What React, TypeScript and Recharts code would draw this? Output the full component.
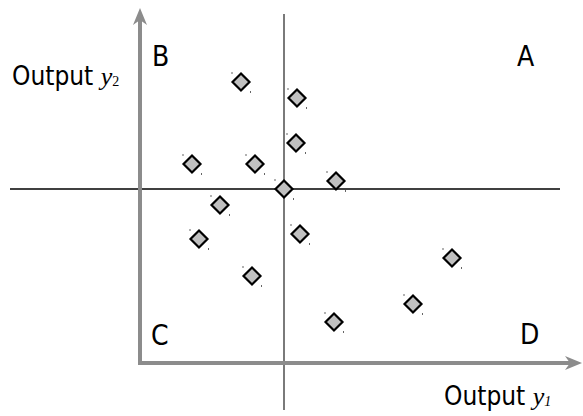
import { ScatterChart, Scatter, XAxis, YAxis, ReferenceLine } from 'recharts';

// output y1 (horizontal) and output y2 (vertical) of each observation
const y1Values = [10.1, 15.7, 15.6, 5.2, 11.5, 19.6, 14.4, 8.0, 5.9, 16.0, 31.2, 11.2, 27.3, 19.4];
const y2Values = [28.1, 26.5, 22.0, 19.9, 19.9, 18.2, 17.4, 15.8, 12.4, 12.9, 10.5, 8.7, 5.9, 4.1];

// centre of the cloud, where the quadrant lines cross
const centreY1 = 14.4;
const centreY2 = 17.4;

const quadrantLabels = ['A', 'B', 'C', 'D'];

const data = y1Values.map((v, i) => ({ x: v, y: y2Values[i] }));

const AXIS_GREY = '#8c8c8c';

function Diamond(props: any) {
  const { cx, cy } = props;
  if (cx == null || cy == null) return null;
  const r = 8.5;
  return (
    <g>
      <polygon
        points={`${cx},${cy - r} ${cx + r},${cy} ${cx},${cy + r} ${cx - r},${cy}`}
        fill="#c0c0c0"
        stroke="#000"
        strokeWidth={2.2}
        strokeLinejoin="miter"
      />
      {/* little specks left over from the original drawing */}
      <rect x={cx - 9.5} y={cy - 10} width={1} height={2} fill="#666" />
      <rect x={cx + 9} y={cy + 9} width={1} height={2} fill="#666" />
    </g>
  );
}

function ArrowLine(props: any) {
  const { x1, y1, x2, y2 } = props;
  const dx = x2 - x1;
  const dy = y2 - y1;
  const len = Math.sqrt(dx * dx + dy * dy) || 1;
  const ux = dx / len;
  const uy = dy / len;
  // perpendicular
  const px = -uy;
  const py = ux;
  const back = 17;
  const notch = 12;
  const wing = 7;
  const bx = x2 - ux * back;
  const by = y2 - uy * back;
  const nx = x2 - ux * notch;
  const ny = y2 - uy * notch;
  return (
    <g>
      <line x1={x1} y1={y1} x2={nx} y2={ny} stroke={AXIS_GREY} strokeWidth={4} />
      <polygon
        points={`${x2},${y2} ${bx + px * wing},${by + py * wing} ${nx},${ny} ${bx - px * wing},${by - py * wing}`}
        fill={AXIS_GREY}
      />
    </g>
  );
}

export default function App() {
  const font = '"DejaVu Sans Condensed", "DejaVu Sans", sans-serif';
  const serif = '"Liberation Serif", serif';
  const letterPos = [
    { x: 517, y: 66 },
    { x: 152, y: 66 },
    { x: 151, y: 345 },
    { x: 520, y: 344 },
  ];
  return (
    <div style={{ position: 'absolute', left: 0, top: 0, background: '#fff' }}>
      <ScatterChart width={583} height={416} margin={{ top: 0, right: 0, bottom: 0, left: 0 }}>
        <XAxis type="number" dataKey="x" domain={[-14, 44.3]} hide />
        <YAxis type="number" dataKey="y" domain={[-5.3, 36.3]} hide />

        {/* quadrant lines through the centre */}
        <ReferenceLine
          segment={[{ x: centreY1, y: 34.9 }, { x: centreY1, y: -4.7 }]}
          stroke="#7a7a7a"
          strokeWidth={2}
        />
        <ReferenceLine
          segment={[{ x: -13, y: centreY2 }, { x: 42, y: centreY2 }]}
          stroke="#000"
          strokeWidth={1.3}
        />

        {/* output axes */}
        <ReferenceLine segment={[{ x: -0.2, y: 0 }, { x: 44.2, y: 0 }]} shape={ArrowLine} />
        <ReferenceLine segment={[{ x: 0, y: -0.2 }, { x: 0, y: 35.5 }]} shape={ArrowLine} />

        <Scatter data={data} shape={Diamond} isAnimationActive={false} />

        <g fontFamily={font} fill="#000">
          {quadrantLabels.map((l, i) => (
            <text key={l} x={letterPos[i].x} y={letterPos[i].y} fontSize={28}>
              {l}
            </text>
          ))}
          <text x={12} y={85} fontSize={26}>
            Output{' '}
            <tspan fontFamily={serif} fontStyle="italic" fontSize={26}>y</tspan>
            <tspan fontFamily={serif} fontSize={14} dy={1}>2</tspan>
          </text>
          <text x={444} y={405} fontSize={26}>
            Output{' '}
            <tspan fontFamily={serif} fontStyle="italic" fontSize={26}>y</tspan>
            <tspan fontFamily={serif} fontStyle="italic" fontSize={14} dy={1}>1</tspan>
          </text>
        </g>
      </ScatterChart>
    </div>
  );
}
